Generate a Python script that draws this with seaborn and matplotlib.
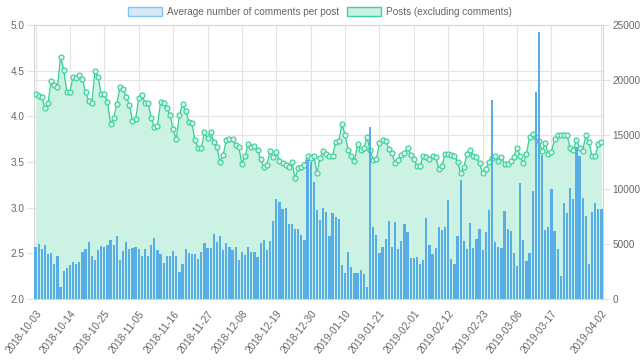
import numpy as np
import pandas as pd
import matplotlib
matplotlib.use("Agg")
import matplotlib.pyplot as plt
from matplotlib.patches import Patch
import seaborn as sns

# daily values, 2018-10-03 .. 2019-04-02
dates = pd.date_range("2018-10-03", "2019-04-02").strftime("%Y-%m-%d").tolist()

avg_comments = [
    2.57, 2.60, 2.55, 2.59, 2.49, 2.50, 2.38, 2.47, 2.13, 2.31,
    2.34, 2.37, 2.41, 2.38, 2.40, 2.52, 2.55, 2.62, 2.47, 2.43,
    2.54, 2.58, 2.57, 2.59, 2.65, 2.59, 2.69, 2.43, 2.53, 2.62,
    2.55,
    2.56, 2.57, 2.55, 2.47, 2.55, 2.47, 2.59, 2.67, 2.54, 2.49,
    2.39, 2.47, 2.47, 2.53, 2.47, 2.30, 2.38, 2.55, 2.50, 2.49,
    2.49, 2.44, 2.51, 2.61, 2.56, 2.56, 2.71, 2.62, 2.69, 2.54,
    2.61,
    2.57, 2.54, 2.57, 2.43, 2.51, 2.48, 2.57, 2.52, 2.52, 2.46,
    2.61, 2.65, 2.54, 2.63, 2.85, 3.10, 3.06, 2.99, 3.00, 2.82,
    2.82, 2.77, 2.77, 2.70, 2.65, 3.52, 3.50, 3.28, 2.97, 2.86,
    3.00, 2.95, 2.69, 2.94, 2.90, 2.88, 2.37, 2.29, 2.52, 2.35,
    2.28, 2.28, 2.32, 2.27, 2.13, 3.88, 2.79, 2.70, 2.50, 2.57,
    2.66, 2.85, 2.57, 2.84, 2.55, 2.64, 2.82, 2.73, 2.45, 2.45,
    2.46,
    2.38, 2.43, 2.89, 2.59, 2.49, 2.56, 2.79, 2.76, 2.79, 3.08,
    2.44, 2.38, 2.69, 3.30, 2.63, 2.55, 2.83, 2.56, 2.66, 2.77,
    2.54, 2.73, 2.97, 4.18, 2.62, 2.57, 2.56, 2.96, 2.77, 2.74,
    2.50, 2.36, 3.27, 2.65, 2.42, 2.50, 3.18, 4.27, 4.92, 3.58,
    2.75, 2.79, 3.20, 2.74, 2.55, 2.25, 3.05, 2.94, 3.21, 3.10,
    3.66, 3.57, 3.11, 2.91, 2.38, 2.95, 3.05, 2.98, 2.98,
]

posts = [
    18677, 18522, 18400, 17400, 17910, 19920, 19525, 19315, 22110, 20895,
    18915, 18915, 20280, 20135, 20465, 20075, 18860, 18065, 17855, 20775,
    20280, 18675, 18675, 17975, 15970, 16540, 17820, 19315, 19190, 18460,
    17730,
    16270, 16395, 18310, 18615, 17915, 17855, 16485, 15665, 15815, 18000,
    17915, 17400, 16790, 15480, 14570, 16790, 17760, 17180, 16180, 16030,
    14505, 13750, 13805, 15210, 14660, 15265, 14295, 13840, 12530, 13140,
    14505,
    14570, 14570, 14050, 13900, 12320, 13050, 14115, 13900, 13960, 13595,
    12775, 12015, 12225, 13505, 12925, 13440, 12620, 12440, 12225, 12015,
    12530, 11010, 11925, 12075, 12225, 13050, 12835, 13050, 11525, 12835,
    13535, 13230, 13050, 13050, 14355, 14415, 15940, 14965, 13595, 13050,
    12620, 14115, 13595, 13750, 14750, 13595, 12680, 12800, 14205, 14505,
    14445, 13685, 13290, 12380, 12680, 13140, 13290, 13805, 13140, 12775,
    12135,
    12135, 13050, 12985, 12745, 13050, 12985, 11835, 12165, 13230, 13200,
    13140, 13050, 12530, 11465, 12075, 13200, 13595, 13050, 12925, 12380,
    11465, 11835, 12530, 12835, 13050, 12620, 12985, 12320, 12320, 12590,
    12985, 13805, 13050, 12380, 13200, 14750, 15055, 14810, 14445, 13505,
    14205, 13200, 13440, 14570, 14965, 14965, 14965, 14965, 13750, 13595,
    14505, 13750, 13505, 14965, 14295, 13050, 13050, 14140, 14355,
]

assert len(dates) == len(avg_comments) == len(posts)

df = pd.DataFrame({"date": dates, "avg": avg_comments, "posts": posts})
df["pos"] = np.arange(len(df))

bar_color = "#58ade7"
line_color = "#33d095"
fill_color = "#cbf2e2"
text_color = "#666666"
grid_color = "#e3e3e3"

sns.set_style("white")
plt.rcParams["font.family"] = ["Liberation Sans", "DejaVu Sans"]

fig = plt.figure(figsize=(6.4, 3.61), dpi=100)
ax = fig.add_axes([34 / 640, 1 - 299 / 361, (603 - 34) / 640, 274 / 361])
ax2 = ax.twinx()

# posts on the primary axes (drawn underneath), ticks on the right
ax.fill_between(df["pos"], df["posts"], color=fill_color, lw=0, zorder=1)
sns.lineplot(data=df, x="pos", y="posts", ax=ax, color=line_color, lw=0.9,
             marker="o", markersize=3.6, markerfacecolor="#d8f5ea",
             markeredgecolor=line_color, markeredgewidth=0.8, zorder=3)
ax.set_ylim(0, 25000)
ax.set_yticks(range(0, 25001, 5000))

# bars on the twin axes, ticks on the left
sns.barplot(data=df, x="pos", y="avg", ax=ax2, color=bar_color, width=0.72,
            saturation=1, edgecolor="none", zorder=2)
ax2.set_ylim(2.0, 5.0)
ax2.set_yticks(np.arange(2.0, 5.01, 0.5))
ax2.set_yticklabels([f"{v:.1f}" for v in np.arange(2.0, 5.01, 0.5)])

ax.yaxis.tick_right()
ax2.yaxis.tick_left()

# grid lines for both scales
ax.grid(True, axis="both", color=grid_color, lw=0.8, zorder=0)
for v in np.arange(2.0, 5.01, 0.5):
    ax.axhline((v - 2.0) / 3.0 * 25000, color=grid_color, lw=0.8, zorder=0)
ax.set_axisbelow(True)

# every 11th day, plus the last one
tick_idx = list(range(0, 170, 11)) + [len(dates) - 1]
ax.set_xlim(-0.5, len(dates) - 0.5)
ax.set_xticks(tick_idx)
ax.set_xticklabels([dates[i] for i in tick_idx], rotation=52, ha="right",
                   rotation_mode="anchor")
ax2.xaxis.set_visible(False)

for a in (ax, ax2):
    a.set_xlabel("")
    a.set_ylabel("")
    a.tick_params(axis="both", colors=grid_color, labelcolor=text_color,
                  labelsize=7.2, length=5, width=0.8, pad=2)
for s in ax.spines.values():
    s.set_color("#d6d6d6")
    s.set_linewidth(0.8)
for s in ax2.spines.values():
    s.set_visible(False)

handles = [
    Patch(facecolor="#d5e9f8", edgecolor="#86c3ec", lw=1,
          label="Average number of comments per post"),
    Patch(facecolor="#c9f2e1", edgecolor="#3bd39b", lw=1,
          label="Posts (excluding comments)"),
]
fig.legend(handles=handles, loc="upper center", bbox_to_anchor=(0.5, 1.005),
           ncol=2, frameon=False, fontsize=7.2, labelcolor=text_color,
           handlelength=3.4, handleheight=1.0, handletextpad=0.5,
           columnspacing=0.8)

fig.savefig("out.png", dpi=100)
